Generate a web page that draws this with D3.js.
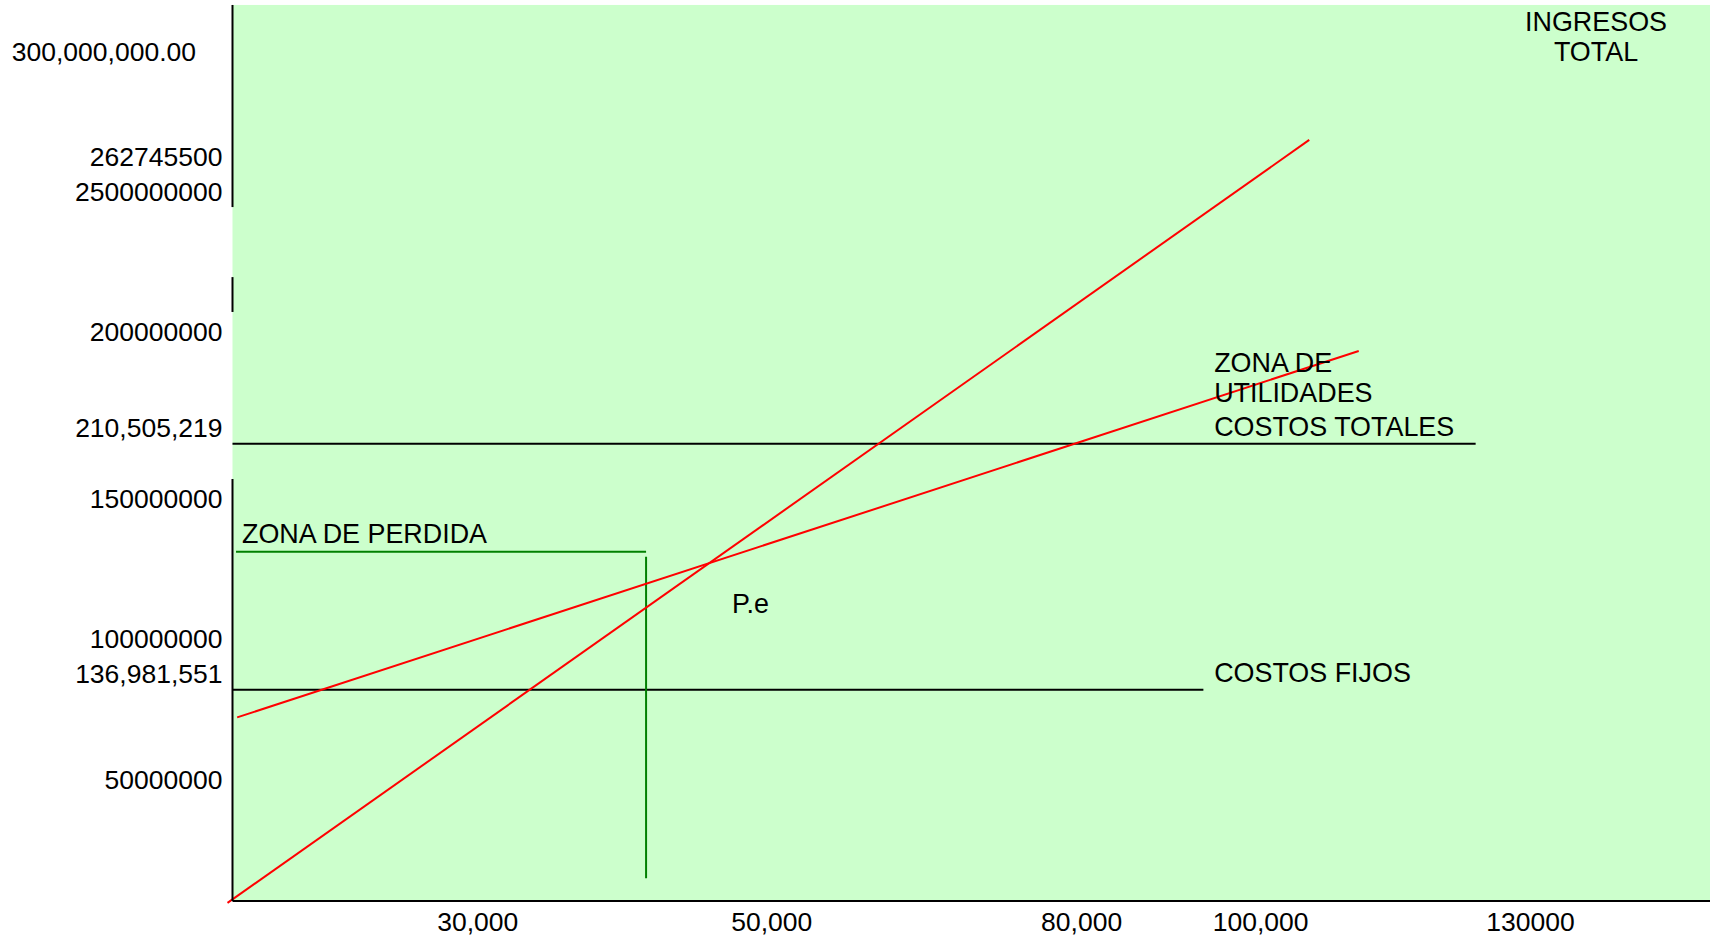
<!DOCTYPE html>
<html>
<head>
<meta charset="utf-8">
<script src="https://cdn.jsdelivr.net/npm/d3@7"></script>
<style>
  html, body { margin: 0; padding: 0; background: #ffffff; }
  svg { display: block; }
  text { font-family: "Liberation Sans", Arial, sans-serif; font-size: 26.5px; fill: #000; }
  text.word { font-size: 26.9px; }
</style>
</head>
<body>
<svg id="chart" width="1710" height="940"></svg>
<script>
// ---------- data ----------
const xTickValues = [30000, 50000, 80000, 100000, 130000];
const xTickLabels = ["30,000", "50,000", "80,000", "100,000", "130000"];

const yTickValues = [50e6, 100e6, 150e6, 200e6, 250e6, 262745500];
const yTickLabels = ["50000000", "100000000", "150000000", "200000000", "2500000000", "262745500"];

const yMaxValue = 300e6;
const yMaxLabel = "300,000,000.00";

// plotted area extent (units, quantity / money)
const xExtent = [0, 150000];
const yExtent = [0, 316.8e6];

// broken vertical axis pieces [from, to]
const yAxisPieces = [[316.8e6, 244.6e6], [219.5e6, 207.0e6], [156.0e6, 0]];

// red lines: ingresos total and costos totales
const ingresosX = [-610, 105400];
const ingresosY = [-0.8e6, 268.6e6];
const costosTotalesX = [570, 110900];
const costosTotalesY = [72.2e6, 194.2e6];

// horizontal levels (drawn level, end quantity, printed value)
const levelNames = ["COSTOS TOTALES", "COSTOS FIJOS"];
const levelValues = [166.5e6, 82.0e6];
const levelEnds = [123900, 93600];
const levelLabels = ["210,505,219", "136,981,551"];
const levelNameX = [94800, 94800];

// green loss-zone marker
const perdidaHX = [430, 41450];
const perdidaHY = [131.2e6, 131.2e6];
const perdidaVX = [41450, 41450];
const perdidaVY = [129.4e6, 9.4e6];

// free annotations
const noteTexts = [["ZONA DE PERDIDA"], ["P.e"], ["ZONA DE", "UTILIDADES"], ["INGRESOS", "TOTAL"]];
const noteX = [1160, 47300, 94800, 137300];
const noteY = [137.7e6, 112.7e6, 190.8e6, 310.9e6];
const noteAnchor = ["start", "start", "start", "middle"];

// ---------- scales ----------
const x = d3.scaleLinear()
  .domain([0, 30000, 50000, 80000, 100000, 130000, 150000])
  .range([232.5, 477.7, 771.8, 1081.6, 1260.7, 1530.5, 1710]);
const y = d3.scaleLinear()
  .domain([0, 50e6, 100e6, 150e6, 200e6, 250e6, 300e6])
  .range([901, 780, 639, 499, 331.5, 192, 52]);

const svg = d3.select("#chart");

// background
svg.append("rect")
  .attr("x", x(xExtent[0]))
  .attr("y", y(yExtent[1]))
  .attr("width", x(xExtent[1]) - x(xExtent[0]))
  .attr("height", y(yExtent[0]) - y(yExtent[1]))
  .attr("fill", "#ccffcc");

const line = d3.line().x(d => x(d[0])).y(d => y(d[1]));

// horizontal cost levels
levelValues.forEach((v, i) => {
  svg.append("path")
    .attr("d", line([[0, v], [levelEnds[i], v]]))
    .attr("stroke", "#000").attr("stroke-width", 2).attr("fill", "none");
  svg.append("text")
    .attr("x", x(0) - 10).attr("y", y(v)).attr("dy", "-0.27em")
    .attr("text-anchor", "end").text(levelLabels[i]);
  svg.append("text")
    .attr("class", "word")
    .attr("x", x(levelNameX[i])).attr("y", y(v)).attr("dy", "-0.28em")
    .text(levelNames[i]);
});

// green loss zone marker
svg.append("path").attr("d", line(d3.zip(perdidaHX, perdidaHY)))
  .attr("stroke", "#008000").attr("stroke-width", 2).attr("fill", "none");
svg.append("path").attr("d", line(d3.zip(perdidaVX, perdidaVY)))
  .attr("stroke", "#008000").attr("stroke-width", 2).attr("fill", "none");

// red lines
svg.append("path").attr("d", line(d3.zip(costosTotalesX, costosTotalesY)))
  .attr("stroke", "#ff0000").attr("stroke-width", 2).attr("fill", "none");
svg.append("path").attr("d", line(d3.zip(ingresosX, ingresosY)))
  .attr("stroke", "#ff0000").attr("stroke-width", 2).attr("fill", "none");

// axes
yAxisPieces.forEach(p => {
  svg.append("path").attr("d", line([[0, p[0]], [0, p[1]]]))
    .attr("stroke", "#000").attr("stroke-width", 2).attr("fill", "none");
});
svg.append("path").attr("d", line([[0, 0], [xExtent[1], 0]]))
  .attr("stroke", "#000").attr("stroke-width", 2).attr("fill", "none");

// y tick labels
svg.selectAll("text.ytick").data(yTickValues).enter().append("text")
  .attr("class", "ytick")
  .attr("x", x(0) - 10).attr("y", d => y(d)).attr("dy", "0.35em")
  .attr("text-anchor", "end")
  .text((d, i) => yTickLabels[i]);
svg.append("text")
  .attr("x", x(0) - 36.5).attr("y", y(yMaxValue)).attr("dy", "0.35em")
  .attr("text-anchor", "end").text(yMaxLabel);

// x tick labels
svg.selectAll("text.xtick").data(xTickValues).enter().append("text")
  .attr("class", "xtick")
  .attr("x", d => x(d)).attr("y", y(0) + 30)
  .attr("text-anchor", "middle")
  .text((d, i) => xTickLabels[i]);

// annotations
noteTexts.forEach((lines, i) => {
  const t = svg.append("text")
    .attr("class", "word")
    .attr("x", x(noteX[i])).attr("y", y(noteY[i]))
    .attr("text-anchor", noteAnchor[i]);
  lines.forEach((s, j) => {
    t.append("tspan")
      .attr("x", x(noteX[i]))
      .attr("dy", j === 0 ? "0.35em" : "1.12em")
      .text(s);
  });
});
</script>
</body>
</html>
